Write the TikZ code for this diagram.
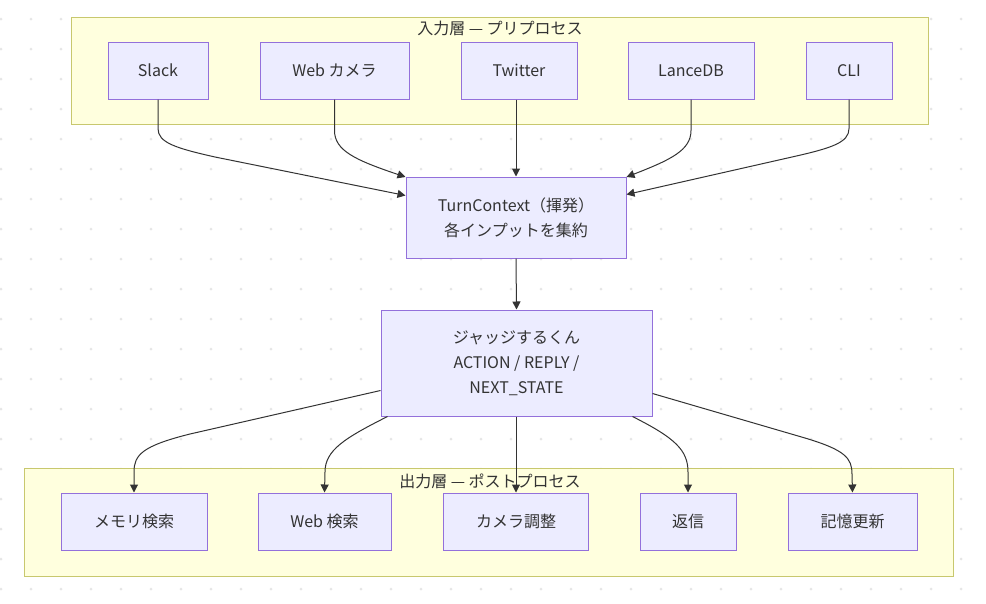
\documentclass[tikz,border=0pt]{standalone}
\usepackage{fontspec}
\setmainfont{Noto Sans CJK JP}
\usetikzlibrary{arrows.meta,calc}
\definecolor{nodefill}{HTML}{ECECFF}
\definecolor{nodestroke}{HTML}{9370DB}
\definecolor{clusterfill}{HTML}{FFFFDE}
\definecolor{clusterstroke}{HTML}{C8C86E}
\definecolor{txt}{HTML}{333333}
\definecolor{edgec}{HTML}{333333}
\definecolor{dotc}{HTML}{E6E6E6}
\tikzset{
  box/.style={draw=nodestroke, fill=nodefill, line width=1pt, text=txt,
    minimum height=57pt, inner sep=0pt, align=center,
    font=\fontsize{16}{25}\selectfont},
  cluster/.style={draw=clusterstroke, fill=clusterfill, line width=1pt},
  ctitle/.style={text=txt, inner sep=0pt, font=\fontsize{16}{20}\selectfont},
  edge/.style={draw=edgec, line width=1pt, -{Triangle[length=8pt,width=8pt]}}
}
\begin{document}
\begin{tikzpicture}[x=1pt,y=-1pt]
\useasboundingbox (0,0) rectangle (986,603);
\fill[white] (0,0) rectangle (986,603);
% dot grid
\foreach \i in {0,...,32}{
  \foreach \j in {0,...,19}{
    \fill[dotc] (1+30*\i,19+30*\j) circle (1.5pt);
  }
}
% clusters
\draw[cluster] (71,17) rectangle (928,124);
\node[ctitle] (intitle) at (500,28) {入力層 — プリプロセス};
\draw[cluster] (24,468) rectangle (953,576);
\node[ctitle] (outtitle) at (490,481) {出力層 — ポストプロセス};
% input nodes
\node[box, minimum width=100pt] (slack) at (158,70.5) {Slack};
\node[box, minimum width=149pt] (cam) at (334.5,70.5) {Web カメラ};
\node[box, minimum width=116pt] (tw) at (519,70.5) {Twitter};
\node[box, minimum width=126pt] (lance) at (691,70.5) {LanceDB};
\node[box, minimum width=86pt] (cli) at (849,70.5) {CLI};
% middle
\node[box, minimum width=220pt, minimum height=81pt] (tc) at (516,217.5)
  {TurnContext（揮発）\\各インプットを集約};
\node[box, minimum width=271pt, minimum height=106pt] (judge) at (516.5,363)
  {ジャッジするくん\\ACTION / REPLY /\\NEXT\_STATE};
% output nodes
\node[box, minimum width=146pt] (mem) at (134,521.5) {メモリ検索};
\node[box, minimum width=133pt] (web) at (324.5,521.5) {Web 検索};
\node[box, minimum width=145pt] (camadj) at (516,521.5) {カメラ調整};
\node[box, minimum width=96pt] (reply) at (688,521.5) {返信};
\node[box, minimum width=129pt] (memup) at (852.5,521.5) {記憶更新};
% input edges
\draw[edge] (slack.south) -- ++(0,29) .. controls +(0,14) and (175,148) .. (215,157)
  -- ($(tc.north west)+(0,19)$);
\draw[edge] (cam.south) -- ++(0,31) .. controls +(0,20) and (355,160) .. ($(tc.north west)+(0,0.5)$);
\draw[edge] (tw.south -| tc.north) -- (tc.north);
\draw[edge] (lance.south) -- ++(0,31) .. controls +(0,20) and (670,160) .. ($(tc.north east)+(0,0.5)$);
\draw[edge] (cli.south) -- ++(0,29) .. controls +(0,14) and (832,148) .. (792,157)
  -- ($(tc.north east)+(0,18)$);
% middle edge
\draw[edge] (tc.south) -- (judge.north);
% output edges
\draw[edge] ($(judge.north west)+(0,81)$) -- (190,434) .. controls (142,446) and (134,455) .. (134,472) -- (mem.north);
\draw[edge] ($(judge.south west)+(7,0)$) .. controls (345,438) and (325,450) .. (325,472) -- (web.north);
\draw[edge] (judge.south -| camadj.north) -- (camadj.north);
\draw[edge] ($(judge.south east)+(-20,0)$) .. controls (675,438) and (688,450) .. (688,472) -- (reply.north);
\draw[edge] ($(judge.north east)+(0,84)$) -- (805,438) .. controls (845,450) and (852,458) .. (852,474) -- (memup.north);
\end{tikzpicture}
\end{document}
